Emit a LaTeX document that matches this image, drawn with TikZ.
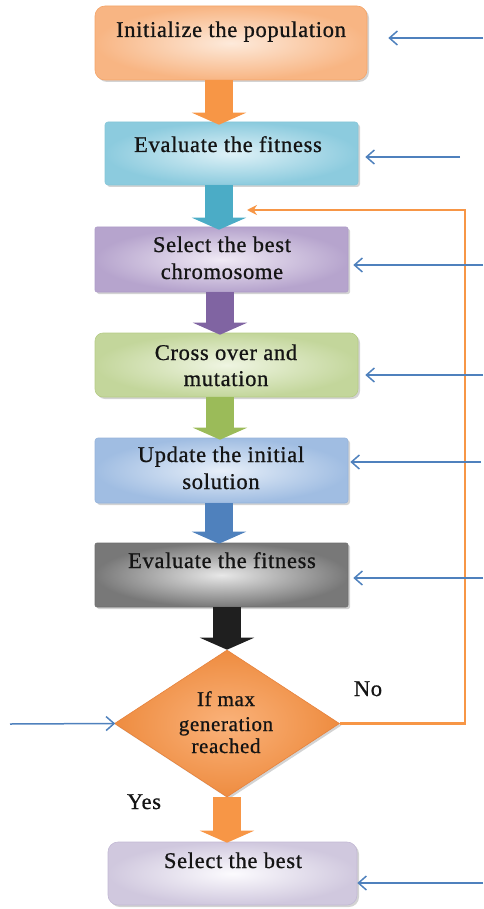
\documentclass[tikz,border=0pt]{standalone}
\usepackage{fontspec}
\setmainfont{Liberation Serif}[LetterSpace=3,FakeBold=0.8]
\usetikzlibrary{arrows.meta,shapes.geometric,shadows,calc}
\definecolor{inblue}{HTML}{4F81BD}
\definecolor{loopor}{HTML}{F79646}
\definecolor{aor}{HTML}{F79646}
\definecolor{acy}{HTML}{4BACC6}
\definecolor{apu}{HTML}{8064A2}
\definecolor{agr}{HTML}{9BBB59}
\definecolor{abl}{HTML}{4F81BD}
\definecolor{abk}{HTML}{1F1F1F}
\definecolor{txtc}{HTML}{141414}
\definecolor{e1}{HTML}{F4A468}\definecolor{i1c}{HTML}{FDEADB}\definecolor{o1c}{HTML}{F8B583}
\definecolor{e2}{HTML}{86C6D8}\definecolor{i2c}{HTML}{DEF1F7}\definecolor{o2c}{HTML}{8CCBDE}
\definecolor{e3}{HTML}{AE9CC8}\definecolor{i3c}{HTML}{F0EAF5}\definecolor{o3c}{HTML}{B6A4CD}
\definecolor{e4}{HTML}{B5CC86}\definecolor{i4c}{HTML}{EFF5E2}\definecolor{o4c}{HTML}{C3D69B}
\definecolor{e5}{HTML}{95B3DB}\definecolor{i5c}{HTML}{E7EFF9}\definecolor{o5c}{HTML}{A0BDE2}
\definecolor{e6}{HTML}{6E6E6E}\definecolor{i6c}{HTML}{E8E8E8}\definecolor{o6c}{HTML}{787878}
\definecolor{ed}{HTML}{E6823C}\definecolor{idc}{HTML}{FAB27A}\definecolor{odc}{HTML}{EE8C40}
\definecolor{e7}{HTML}{C2B8D4}\definecolor{i7c}{HTML}{FCFBFE}\definecolor{o7c}{HTML}{D0C8DE}
\tikzset{
  boxbase/.style={rectangle, inner sep=0pt, draw=#1, line width=0.6pt,
    drop shadow={shadow xshift=2pt, shadow yshift=-2pt, opacity=0.35, fill=gray}},
  txt/.style={font=\fontsize{22.5}{27}\selectfont, text=txtc, inner sep=0pt, anchor=base},
  dtxt/.style={font=\fontsize{21}{25}\selectfont, text=txtc, inner sep=0pt, anchor=base},
  blockarrow/.style={draw=#1, line width=28pt, -{Triangle[length=12pt,width=54pt]}},
  inarrow/.style={draw=inblue, line width=1.5pt, -{Straight Barb[length=8pt,width=14pt]}},
  looparrow/.style={draw=loopor, line width=2.4pt, -{Stealth[length=10pt,width=10pt]}},
}
\begin{document}
\begin{tikzpicture}[x=1pt,y=-1pt]
\useasboundingbox (0,0) rectangle (483,909);
% boxes
\node[boxbase=e1, rounded corners=10pt, minimum width=272pt, minimum height=74pt,
  inner color=i1c, outer color=o1c] (b1) at (231,43) {};
\node[boxbase=e2, rounded corners=3pt, minimum width=253pt, minimum height=63pt,
  inner color=i2c, outer color=o2c] (b2) at (231.5,153.5) {};
\node[boxbase=e3, rounded corners=2pt, minimum width=253pt, minimum height=65pt,
  inner color=i3c, outer color=o3c] (b3) at (221.5,259.5) {};
\node[boxbase=e4, rounded corners=8pt, minimum width=263pt, minimum height=64pt,
  inner color=i4c, outer color=o4c] (b4) at (226.5,365) {};
\node[boxbase=e5, rounded corners=3pt, minimum width=253pt, minimum height=65pt,
  inner color=i5c, outer color=o5c] (b5) at (221.5,470.5) {};
\node[boxbase=e6, rounded corners=2pt, minimum width=253pt, minimum height=64pt,
  inner color=i6c, outer color=o6c] (b6) at (221.5,575) {};
\node[diamond, draw=ed, line width=0.6pt, inner sep=0pt, minimum width=225pt, minimum height=147pt,
  inner color=idc, outer color=odc,
  drop shadow={shadow xshift=2pt, shadow yshift=-2pt, opacity=0.35, fill=gray}] (d) at (227,723.5) {};
\node[boxbase=e7, rounded corners=10pt, minimum width=249pt, minimum height=63pt,
  inner color=i7c, outer color=o7c] (b7) at (232.5,873.5) {};
% texts
\node[txt] (t1) at (231,37) {Initialize the population};
\node[txt] (t2) at (228,152) {Evaluate the fitness};
\node[txt] (t3a) at (222,252) {Select the best};
\node[txt] (t3b) at (222,279) {chromosome};
\node[txt] (t4a) at (226,360) {Cross over and};
\node[txt] (t4b) at (226,386) {mutation};
\node[txt] (t5a) at (221,462) {Update the initial};
\node[txt] (t5b) at (221,489) {solution};
\node[txt] (t6) at (222,568) {Evaluate the fitness};
\node[dtxt] (td1) at (226,706) {If max};
\node[dtxt] (td2) at (226,731) {generation};
\node[dtxt] (td3) at (226,753) {reached};
\node[txt] (t7) at (233,868) {Select the best};
\node[txt] (tno) at (368,696) {No};
\node[txt] (tyes) at (144,809) {Yes};
% block arrows
\coordinate (ax1) at (219,0);
\coordinate (ax2) at (220,0);
\coordinate (ax3) at (227,0);
\draw[blockarrow=aor] (b1.south -| ax1) -- ($(b2.north -| ax1)+(0,3)$);
\draw[blockarrow=acy] (b2.south -| ax1) -- ($(b3.north -| ax1)+(0,3)$);
\draw[blockarrow=apu] (b3.south -| ax2) -- ($(b4.north -| ax2)+(0,2)$);
\draw[blockarrow=agr] (b4.south -| ax2) -- ($(b5.north -| ax2)+(0,2)$);
\draw[blockarrow=abl] (b5.south -| ax1) -- ($(b6.north -| ax1)+(0,1)$);
\draw[blockarrow=abk] (b6.south -| ax3) -- (d.north);
\draw[blockarrow=aor] (d.south) -- ($(b7.north -| ax3)+(0,1)$);
% loop back
\coordinate (loopx) at (465,0);
\coordinate (loopend) at (247,210);
\draw[looparrow] (d.east) -- (d.east -| loopx) |- (loopend);
% input arrows
\coordinate (i1) at (483,38);
\coordinate (i2) at (460,157);
\coordinate (i3) at (483,265);
\coordinate (i4) at (483,375);
\coordinate (i5) at (481,462);
\coordinate (i6) at (483,578);
\coordinate (i7) at (483,883);
\coordinate (id) at (10,724);
\draw[inarrow, shorten >=21pt] (i1) -- (b1.east |- i1);
\draw[inarrow, shorten >=7pt] (i2) -- (b2.east |- i2);
\draw[inarrow, shorten >=5pt] (i3) -- (b3.east |- i3);
\draw[inarrow, shorten >=7pt] (i4) -- (b4.east |- i4);
\draw[inarrow, shorten >=2pt] (i5) -- (b5.east |- i5);
\draw[inarrow, shorten >=5pt] (i6) -- (b6.east |- i6);
\draw[inarrow] (i7) -- (b7.east |- i7);
\draw[inarrow, shorten >=-1pt] (id) -- (d.west);
\end{tikzpicture}
\end{document}
